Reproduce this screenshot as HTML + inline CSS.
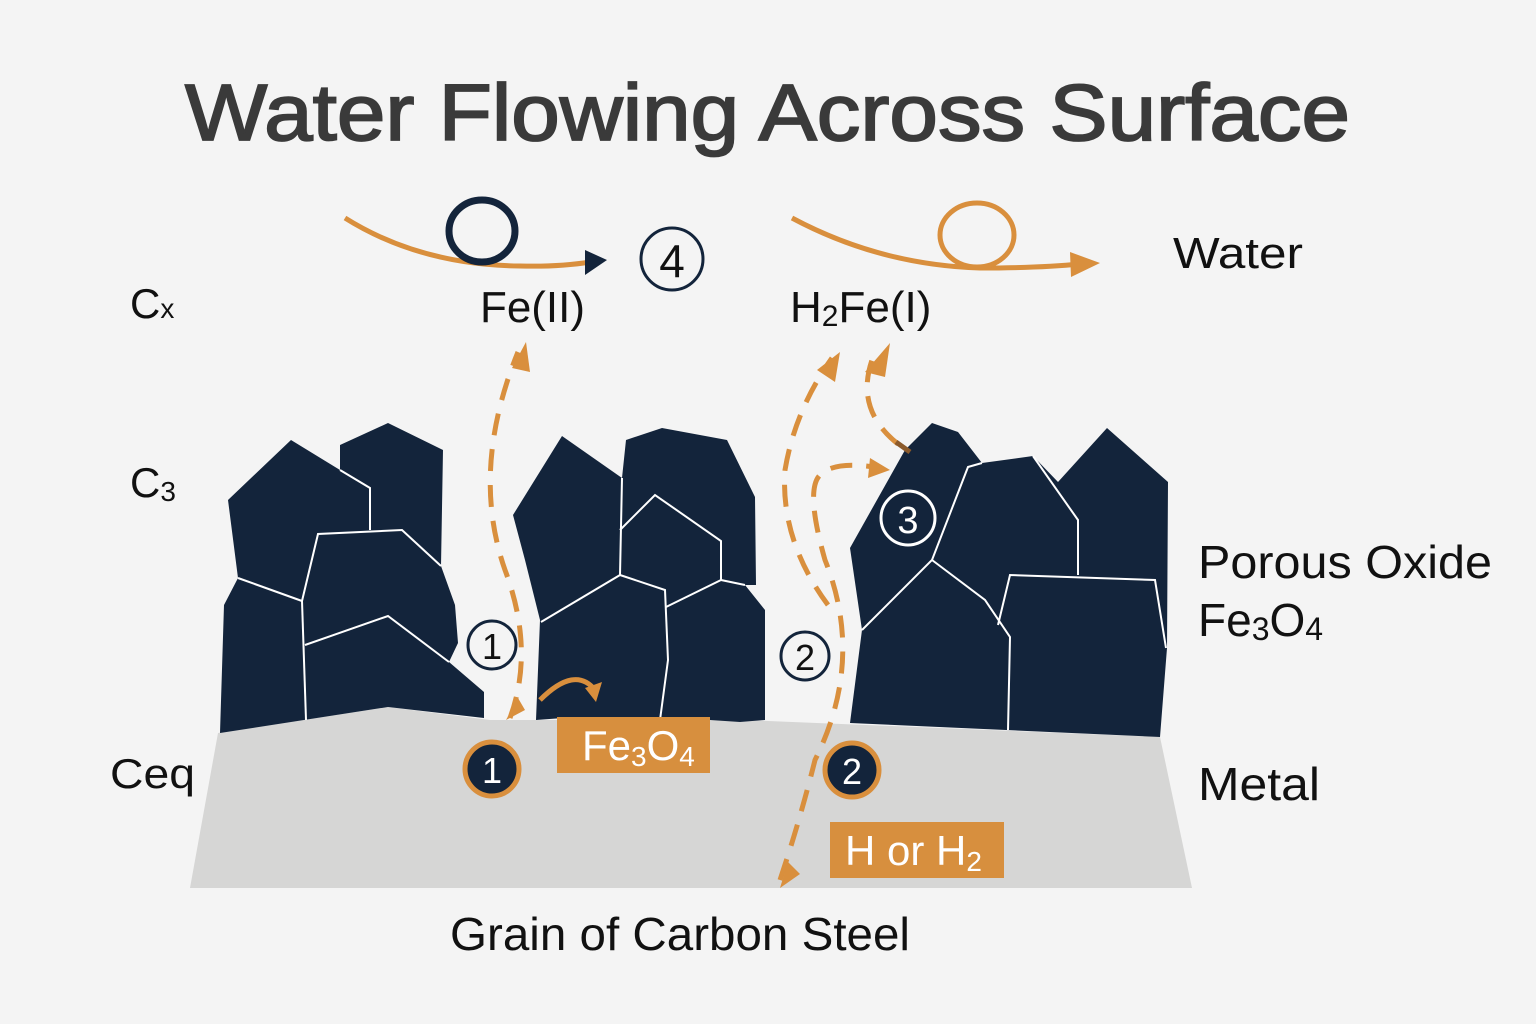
<!DOCTYPE html>
<html><head><meta charset="utf-8"><style>
html,body{margin:0;padding:0;background:#f4f4f4;}
svg{display:block}
text{font-family:"Liberation Sans",sans-serif;}
</style></head><body>
<svg width="1536" height="1024" viewBox="0 0 1536 1024" xmlns="http://www.w3.org/2000/svg">
<rect width="1536" height="1024" fill="#f4f4f4"/>
<text x="185" y="140" font-size="80" fill="#3a3a3a" stroke="#3a3a3a" stroke-width="1.8" textLength="1165" lengthAdjust="spacingAndGlyphs">Water Flowing Across Surface</text>

<polygon points="218,733 388,707 490,720 745,720 1160,737 1192,888 190,888" fill="#d6d6d5"/>

<polygon points="228,500 291,440 340,470 340,445 388,423 443,450 441,566 455,605 458,643 449,662 484,692 484,718 388,707 220,733 224,605 238,578" fill="#13243b"/>
<g fill="none" stroke="#ffffff" stroke-width="2">
<polyline points="238,578 302,601"/>
<polyline points="302,601 318,534 402,530 441,566"/>
<polyline points="340,470 370,488 370,530"/>
<polyline points="302,601 306,720"/>
<polyline points="305,645 388,616 449,662"/>
</g>

<polygon points="513,515 562,436 622,478 626,440 662,428 727,440 755,497 756,585 745,585 765,610 765,720 740,722 710,720 563,718 536,720 540,620 525,560" fill="#13243b"/>
<g fill="none" stroke="#ffffff" stroke-width="2">
<polyline points="622,478 620,575 541,622"/>
<polyline points="620,530 655,495 721,541 721,580 666,607"/>
<polyline points="620,575 665,590 668,660 660,720"/>
<polyline points="721,580 745,585"/>
</g>

<polygon points="850,548 905,450 932,423 958,432 982,463 1033,456 1058,482 1107,428 1168,482 1167,648 1160,737 850,723 862,630" fill="#13243b"/>
<g fill="none" stroke="#ffffff" stroke-width="2">
<polyline points="982,463 968,467 932,560 862,630"/>
<polyline points="932,560 985,600 1010,637 1008,730"/>
<polyline points="1033,456 1078,520 1078,575"/>
<polyline points="998,625 1010,575 1155,580 1166,648"/>
</g>

<path d="M345,218 Q420,265 520,266 Q560,267 590,262" fill="none" stroke="#d98f3d" stroke-width="5"/>
<polygon points="585,250 607,260 585,275" fill="#13243b"/>
<ellipse cx="482" cy="231" rx="33" ry="31" fill="none" stroke="#13243b" stroke-width="7"/>
<circle cx="672" cy="259" r="31" fill="none" stroke="#13243b" stroke-width="3"/>
<text x="672" y="277" font-size="46" fill="#111" text-anchor="middle">4</text>

<path d="M792,218 Q880,265 980,268 Q1040,268 1080,264" fill="none" stroke="#d98f3d" stroke-width="5"/>
<polygon points="1070,252 1100,263 1071,277" fill="#d98f3d"/>
<ellipse cx="977" cy="235" rx="37" ry="32" fill="none" stroke="#d98f3d" stroke-width="5"/>

<text x="130" y="318" font-size="42" fill="#111">C<tspan font-size="28">x</tspan></text>
<text x="130" y="497" font-size="42" fill="#111">C<tspan font-size="28" dy="4">3</tspan></text>
<text x="110" y="788" font-size="42" fill="#111" textLength="85" lengthAdjust="spacingAndGlyphs">Ceq</text>
<text x="480" y="322" font-size="44" fill="#111" textLength="105" lengthAdjust="spacingAndGlyphs">Fe(II)</text>
<text x="790" y="322" font-size="44" fill="#111">H<tspan font-size="30" dy="4">2</tspan><tspan dy="-4">Fe(I)</tspan></text>
<text x="1173" y="268" font-size="44" fill="#111" textLength="130" lengthAdjust="spacingAndGlyphs">Water</text>
<text x="1198" y="578" font-size="46" fill="#111" textLength="294" lengthAdjust="spacingAndGlyphs">Porous Oxide</text>
<text x="1198" y="636" font-size="46" fill="#111">Fe<tspan font-size="32" dy="4">3</tspan><tspan dy="-4">O</tspan><tspan font-size="32" dy="4">4</tspan></text>
<text x="1198" y="800" font-size="46" fill="#111" textLength="122" lengthAdjust="spacingAndGlyphs">Metal</text>
<text x="450" y="950" font-size="46" fill="#111" textLength="460" lengthAdjust="spacingAndGlyphs">Grain of Carbon Steel</text>

<g fill="none" stroke="#d98f3d" stroke-width="5" stroke-dasharray="22,14">
<path d="M510,718 Q535,650 505,570 Q470,470 518,352"/>
<path d="M828,605 Q780,540 785,470 Q795,410 832,358"/>
<path d="M780,880 Q800,820 815,760 Q865,660 825,560 Q805,490 820,475 Q835,460 880,468"/>
<path d="M898,444 Q855,410 872,360"/>
<path d="M540,700 Q575,665 595,690" stroke-dasharray="none"/>
</g>
<line x1="896" y1="442" x2="910" y2="452" stroke="#8b5a2b" stroke-width="5"/>
<polygon points="512,368 526,342 530,372" fill="#d98f3d"/>
<polygon points="817,370 840,352 835,382" fill="#d98f3d"/>
<polygon points="865,372 890,343 885,377" fill="#d98f3d"/>
<polygon points="870,458 890,470 868,478" fill="#d98f3d"/>
<polygon points="585,688 602,682 596,702" fill="#d98f3d"/>
<polygon points="780,888 788,862 800,874" fill="#d98f3d"/>
<polygon points="506,720 518,698 525,710" fill="#d98f3d"/>

<rect x="557" y="717" width="153" height="56" fill="#d78f3e"/>
<text x="582" y="760" font-size="42" fill="#fff">Fe<tspan font-size="28" dy="6">3</tspan><tspan dy="-6">O</tspan><tspan font-size="28" dy="6">4</tspan></text>
<rect x="830" y="822" width="174" height="56" fill="#d78f3e"/>
<text x="845" y="865" font-size="42" fill="#fff">H or H<tspan font-size="28" dy="6">2</tspan></text>

<circle cx="492" cy="769" r="27" fill="#13243b" stroke="#d98f3d" stroke-width="5"/>
<text x="492" y="783" font-size="36" fill="#fff" text-anchor="middle">1</text>
<circle cx="852" cy="770" r="27" fill="#13243b" stroke="#d98f3d" stroke-width="5"/>
<text x="852" y="784" font-size="36" fill="#fff" text-anchor="middle">2</text>
<circle cx="492" cy="645" r="24" fill="none" stroke="#13243b" stroke-width="3"/>
<text x="492" y="659" font-size="36" fill="#111" text-anchor="middle">1</text>
<circle cx="805" cy="656" r="24" fill="none" stroke="#13243b" stroke-width="3"/>
<text x="805" y="670" font-size="36" fill="#111" text-anchor="middle">2</text>
<circle cx="908" cy="518" r="27" fill="none" stroke="#fff" stroke-width="3"/>
<text x="908" y="533" font-size="38" fill="#fff" text-anchor="middle">3</text>
</svg>
</body></html>
